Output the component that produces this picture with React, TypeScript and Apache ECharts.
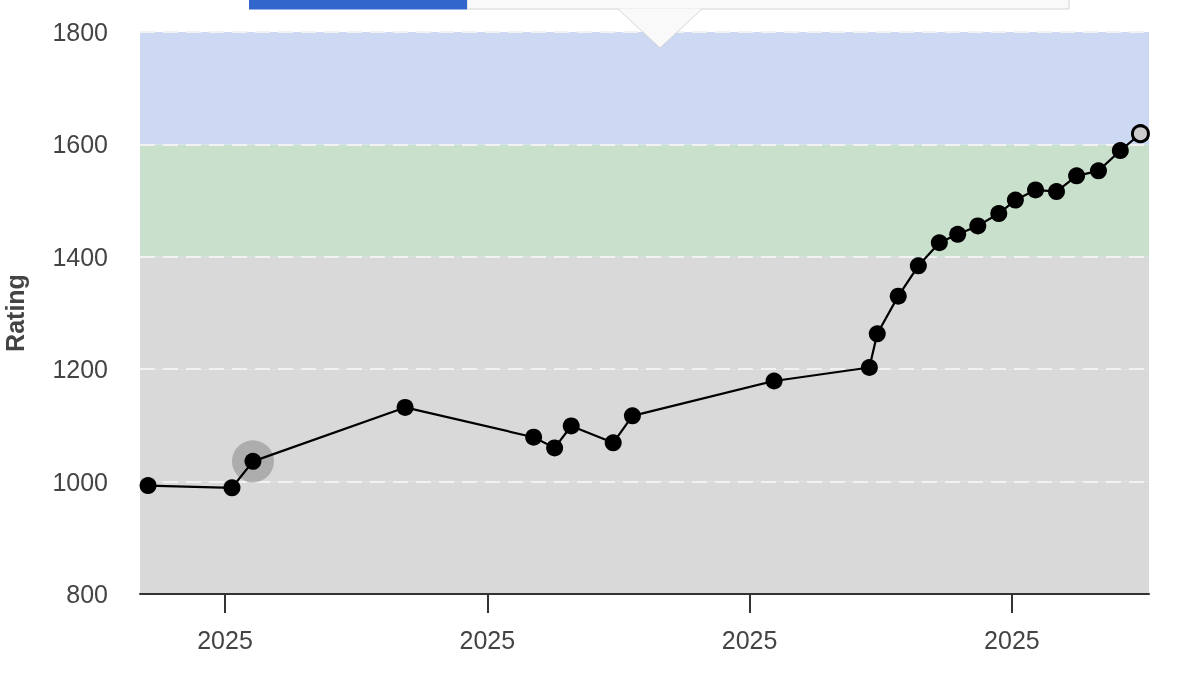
import React, { useEffect, useRef } from "react";
import * as echarts from "echarts";

// x = days since the first tick, y = rating
const days = [-8.8, 0.8, 3.2, 20.6, 35.3, 37.7, 39.6, 44.4, 46.6, 62.8, 73.7, 74.6, 77.0, 79.3, 81.7, 83.8, 86.1, 88.5, 90.4, 92.7, 95.1, 97.4, 99.9, 102.4, 104.7];
const ratings = [993, 989, 1036, 1132, 1079, 1060, 1099, 1069, 1117, 1179, 1203, 1263, 1330, 1384, 1425, 1440, 1455, 1477, 1501, 1519, 1516, 1544, 1553, 1589, 1619];
const highlightIndex = 2;
const xTickValues = [0, 30, 60, 90];
const xTickLabels = ["2025", "2025", "2025", "2025"];
const yTicks = [800, 1000, 1200, 1400, 1600, 1800];
const bandColors = ["#d9d9d9", "#d9d9d9", "#d9d9d9", "#c9e0cc", "#cdd9f2"];

export default function App() {
  const ref = useRef<HTMLDivElement>(null);
  useEffect(() => {
    if (!ref.current) return;
    const chart = echarts.init(ref.current, null, { renderer: "svg" });
    const lastIdx = ratings.length - 1;
    const lineData = days.map((d, i) =>
      i === lastIdx
        ? {
            value: [d, ratings[i]],
            symbolSize: 16,
            itemStyle: { color: "#cccccc", borderColor: "#000", borderWidth: 3 },
          }
        : { value: [d, ratings[i]] }
    );
    const font = "Arial, 'Liberation Sans', sans-serif";
    chart.setOption({
      animation: false,
      grid: { left: 140, right: 51, top: 32, bottom: 94, containLabel: false, outerBoundsMode: "none" },
      xAxis: {
        type: "value",
        min: -9.72,
        max: 105.68,
        splitLine: { show: false },
        axisLine: { show: true, onZero: false, lineStyle: { color: "#333", width: 2 } },
        axisTick: { show: true, length: 19, customValues: xTickValues, lineStyle: { color: "#333", width: 2 } },
        axisLabel: {
          customValues: xTickValues,
          formatter: (v: number) => xTickLabels[xTickValues.indexOf(Math.round(v))] ?? "",
          fontSize: 25,
          color: "#444",
          fontFamily: font,
          margin: 33,
        },
      },
      yAxis: {
        type: "value",
        min: yTicks[0],
        max: yTicks[yTicks.length - 1],
        interval: 200,
        name: "Rating",
        nameLocation: "middle",
        nameRotate: 90,
        nameGap: 113,
        nameTextStyle: { fontSize: 25, fontWeight: "bold", color: "#444", fontFamily: font },
        axisLine: { show: false },
        axisTick: { show: false },
        axisLabel: { fontSize: 25, color: "#444", fontFamily: font, margin: 32, formatter: (v: number) => String(v) },
        splitArea: { show: true, areaStyle: { color: bandColors } },
        splitLine: { show: true, lineStyle: { color: "#f2f2f2", width: 2, type: [15, 8] } },
      },
      series: [
        {
          type: "scatter",
          data: [[days[highlightIndex], ratings[highlightIndex]]],
          symbolSize: 42,
          itemStyle: { color: "rgba(0,0,0,0.25)" },
          z: 1,
          silent: true,
        },
        {
          type: "line",
          data: lineData,
          symbol: "circle",
          symbolSize: 17,
          itemStyle: { color: "#000" },
          lineStyle: { color: "#000", width: 2.2 },
          z: 2,
        },
      ],
      graphic: [
        { type: "rect", shape: { x: 467, y: -20, width: 602, height: 29 }, style: { fill: "#f9f9f9", stroke: "#d4d4d4", lineWidth: 1 }, z: 100 },
        { type: "rect", shape: { x: 249, y: -20, width: 218, height: 29.5 }, style: { fill: "#3366cc" }, z: 101 },
        { type: "polygon", shape: { points: [[618, 8.5], [702, 8.5], [660, 48]] }, style: { fill: "#f9f9f9" }, z: 102 },
        { type: "polyline", shape: { points: [[618, 9], [660, 48], [702, 9]] }, style: { stroke: "#d4d4d4", lineWidth: 1, fill: "none" }, z: 103 },
      ],
    });
    return () => chart.dispose();
  }, []);
  return <div ref={ref} style={{ position: "fixed", left: 0, top: 0, width: 1200, height: 688 }} />;
}
